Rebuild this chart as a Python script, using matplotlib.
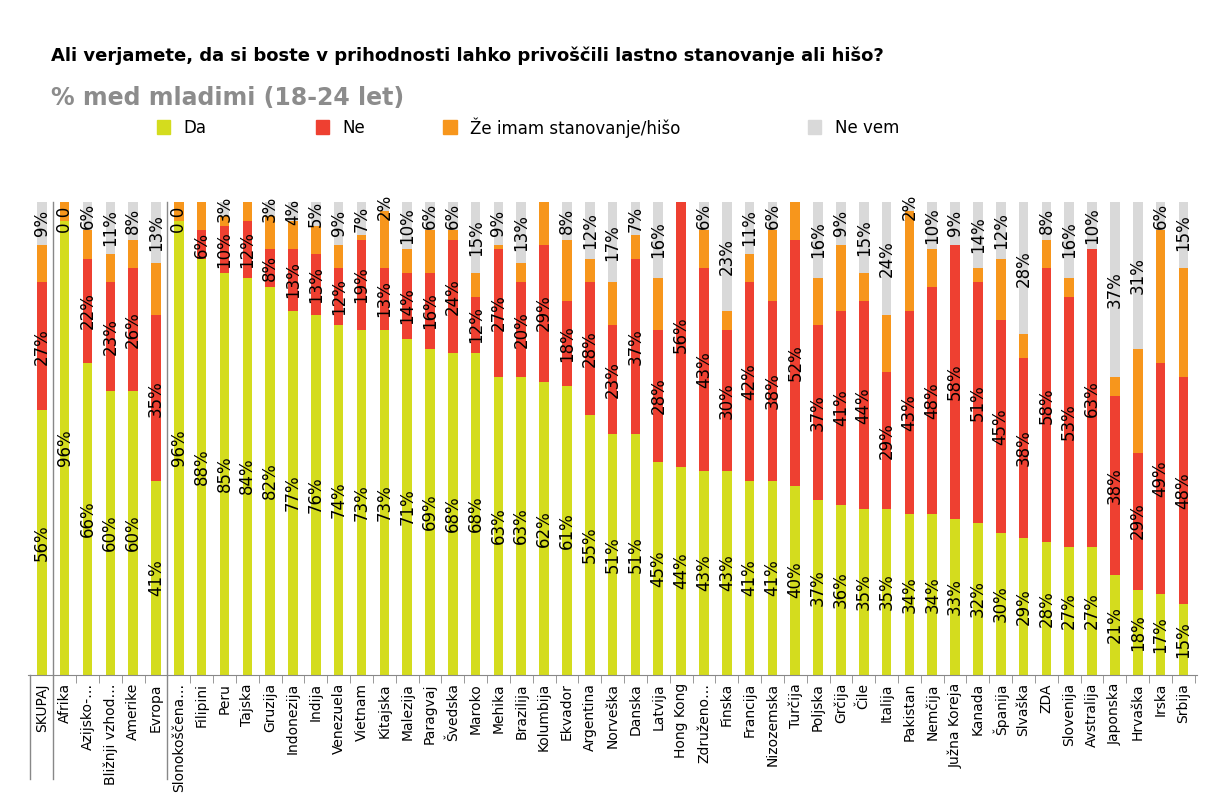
import matplotlib.pyplot as plt
import numpy as np

countries = ["SKUPAJ", "Afrika", "Azijsko-…", "Bližnji vzhod…", "Amerike", "Evropa",
             "Slonokoščena…", "Filipini", "Peru", "Tajska", "Gruzija", "Indonezija", "Indija",
             "Venezuela", "Vietnam", "Kitajska", "Malezija", "Paragvaj", "Švedska", "Maroko",
             "Mehika", "Brazilija", "Kolumbija", "Ekvador", "Argentina", "Norveška", "Danska",
             "Latvija", "Hong Kong", "Združeno…", "Finska", "Francija", "Nizozemska", "Turčija",
             "Poljska", "Grčija", "Čile", "Italija", "Pakistan", "Nemčija", "Južna Koreja",
             "Kanada", "Španija", "Slvaška", "ZDA", "Slovenija", "Avstralija", "Japonska",
             "Hrvaška", "Irska", "Srbija"]
da = [56, 96, 66, 60, 60, 41, 96, 88, 85, 84, 82, 77, 76, 74, 73, 73, 71, 69, 68, 68,
      63, 63, 62, 61, 55, 51, 51, 45, 44, 43, 43, 41, 41, 40, 37, 36, 35, 35, 34, 34, 33,
      32, 30, 29, 28, 27, 27, 21, 18, 17, 15]
ne = [27, 0, 22, 23, 26, 35, 0, 6, 10, 12, 8, 13, 13, 12, 19, 13, 14, 16, 24, 12,
      27, 20, 29, 18, 28, 23, 37, 28, 56, 43, 30, 42, 38, 52, 37, 41, 44, 29, 43, 48, 58,
      51, 45, 38, 58, 53, 63, 38, 29, 49, 48]
imam = [8, 4, 6, 6, 6, 11, 4, 6, 2, 4, 7, 6, 6, 5, 1, 12, 5, 9, 2, 5,
        1, 4, 9, 13, 5, 9, 5, 11, 0, 8, 4, 6, 15, 8, 10, 14, 6, 12, 21, 8, 0,
        3, 13, 5, 6, 4, 0, 4, 22, 28, 23]
nevem = [9, 0, 6, 11, 8, 13, 0, 0, 3, 0, 3, 4, 5, 9, 7, 2, 10, 6, 6, 15,
         9, 13, 0, 8, 12, 17, 7, 16, 0, 6, 23, 11, 6, 0, 16, 9, 15, 24, 2, 10, 9,
         14, 12, 28, 8, 16, 10, 37, 31, 6, 15]
zero_shown = ["Afrika", "Slonokoščena…"]

c_da, c_ne, c_imam, c_nevem = "#d4dc1e", "#ee4031", "#f7961c", "#d9d9d9"

fig = plt.figure(figsize=(12.24, 8.08), dpi=100)
ax = fig.add_axes([0.023, 0.165, 0.955, 0.585])
x = np.arange(len(countries))
w = 0.42
series = [(da, c_da, True), (ne, c_ne, True), (imam, c_imam, False), (nevem, c_nevem, True)]
bottom = np.zeros(len(countries))
for vals, col, lab in series:
    vals = np.array(vals, dtype=float)
    ax.bar(x, vals, w, bottom=bottom, color=col, zorder=2)
    if lab:
        for i, v in enumerate(vals):
            if v > 0:
                ax.text(x[i], bottom[i] + v / 2, f"{int(v)}%", rotation=90, ha="center",
                        va="center", fontsize=12, zorder=3)
    bottom += vals

for i, name in enumerate(countries):
    if name in zero_shown:
        ax.text(x[i], 99, "0 0", rotation=90, ha="center", va="top", fontsize=12, zorder=3)

ax.set_xlim(-0.6, len(countries) - 0.4)
ax.set_ylim(0, 100)
ax.set_yticks([])
ax.set_xticks(x)
ax.set_xticklabels(countries, rotation=90, fontsize=10)
ax.tick_params(axis="x", length=0, pad=6)
ax.set_xticks(np.arange(-0.5, len(countries)), minor=True)
ax.tick_params(axis="x", which="minor", length=6, color="#888888")
for s in ["top", "right"]:
    ax.spines[s].set_visible(False)
ax.spines["left"].set_visible(False)
ax.spines["bottom"].set_color("#888888")
for sep in [0.5, 5.5]:
    ax.axvline(sep, ymin=-0.22, ymax=1.0, color="#888888", lw=1, clip_on=False)
ax.axvline(-0.5, ymin=-0.22, ymax=0, color="#888888", lw=1, clip_on=False)

fig.text(0.042, 0.925, "Ali verjamete, da si boste v prihodnosti lahko privoščili lastno stanovanje ali hišo?",
         fontsize=13, fontweight="bold")
fig.text(0.042, 0.87, "% med mladimi (18-24 let)", fontsize=17, fontweight="bold", color="#8c8c8c")

legend_items = [("Da", c_da, 0.128), ("Ne", c_ne, 0.258), ("Že imam stanovanje/hišo", c_imam, 0.362),
                ("Ne vem", c_nevem, 0.66)]
for label, col, lx in legend_items:
    fig.patches.append(plt.Rectangle((lx, 0.834), 0.011, 0.017, color=col, transform=fig.transFigure))
    fig.text(lx + 0.022, 0.842, label, fontsize=12, va="center")

fig.savefig("out.png", dpi=100)
